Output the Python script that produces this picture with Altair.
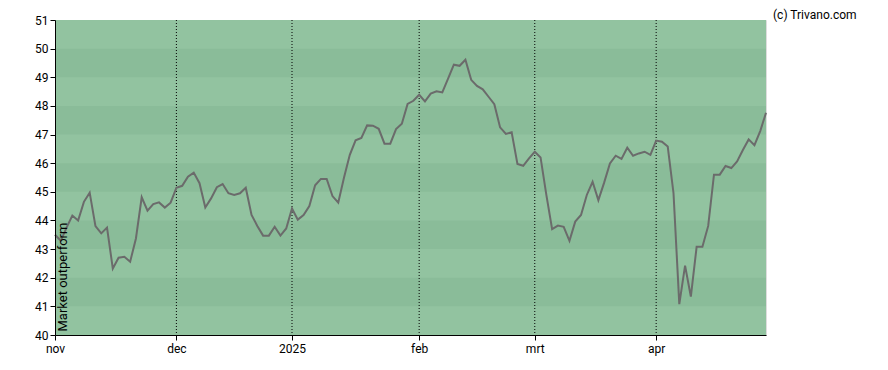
import altair as alt
import pandas as pd

# Trading-day index and values
values = [
    43.5, 43.29, 43.75, 44.17, 44.0, 44.65, 44.97, 43.8, 43.55, 43.75,
    42.32, 42.7, 42.73, 42.56, 43.37, 44.81, 44.34, 44.57, 44.63, 44.45,
    44.62, 45.14, 45.21, 45.53, 45.67, 45.3, 44.45, 44.77, 45.16, 45.27,
    44.95, 44.89, 44.95, 45.14, 44.19, 43.81, 43.47, 43.47, 43.78, 43.47,
    43.72, 44.42, 44.03,
    44.19, 44.5, 45.23, 45.45, 45.45, 44.85, 44.62, 45.5, 46.29, 46.8,
    46.88, 47.32, 47.31, 47.2, 46.68, 46.68, 47.19, 47.38, 48.07, 48.18,
    48.39, 48.16, 48.43, 48.51, 48.47, 48.95, 49.44, 49.4, 49.61, 48.91,
    48.7, 48.58, 48.32, 48.06, 47.25, 47.02, 47.08, 45.97, 45.91, 46.17,
    46.4, 46.2, 44.89, 43.7, 43.82,
    43.78, 43.29, 43.96, 44.19, 44.89, 45.35, 44.71, 45.32, 45.99, 46.26,
    46.15, 46.54, 46.26, 46.34, 46.4, 46.29, 46.79, 46.75, 46.58, 44.95,
    41.08, 42.42, 41.34, 43.08, 43.08, 43.81, 45.6, 45.6, 45.9, 45.83,
    46.06, 46.46, 46.83, 46.63, 47.12, 47.76,
]
day_index = list(range(len(values)))

tick_pos = [0, 21, 41, 63, 83, 104]
tick_labels = ["nov", "dec", "2025", "feb", "mrt", "apr"]
month_lines = [21, 41, 63, 83, 104]

# full light-green background plus darker horizontal bands
y_min, y_max = 40, 51
dark_band_low = [41, 43, 45, 47, 49]
dark_band_high = [b + 1 for b in dark_band_low]
light_green = "#92c3a0"
dark_green = "#8abc99"

y_ticks = list(range(40, 52))
copyright = "(c) Trivano.com"

df = pd.DataFrame({"i": day_index, "v": values})
df_bg = pd.DataFrame({"lo": [y_min], "hi": [y_max]})
df_bands = pd.DataFrame({"lo": dark_band_low, "hi": dark_band_high})
df_rules = pd.DataFrame({"i": month_lines})
df_copy = pd.DataFrame({"t": [copyright]})

label_expr = " : ".join(
    f"datum.value == {p} ? '{l}'" for p, l in zip(tick_pos, tick_labels)
) + " : ''"

x_scale = alt.Scale(domain=[0, len(values) - 1], nice=False, zero=False)
y_scale = alt.Scale(domain=[y_min, y_max], nice=False, zero=False)

x_axis = alt.Axis(
    values=tick_pos, labelExpr=label_expr, title=None, grid=False,
    domainColor="black", tickColor="black", tickSize=5, labelColor="black",
    labelFontSize=12, labelPadding=3, labelFlush=False, zindex=1,
)
y_axis = alt.Axis(
    values=y_ticks, title="Market outperform", grid=False,
    domainColor="black", tickColor="black", tickSize=5, labelColor="black",
    labelFontSize=12, labelPadding=2, zindex=1,
    titleX=11, titleY=311, titleAngle=270, titleAlign="left",
    titleBaseline="alphabetic", titleFontWeight="normal", titleFontSize=13,
    titleColor="black",
)


def band_layer(data, color):
    return alt.Chart(data).mark_rect(color=color).encode(
        x=alt.datum(0, scale=x_scale, axis=x_axis, type="quantitative"),
        x2=alt.datum(len(values) - 1),
        y=alt.Y("lo:Q", scale=y_scale, axis=y_axis),
        y2="hi:Q",
    )


background = band_layer(df_bg, light_green)
bands = band_layer(df_bands, dark_green)

rules = alt.Chart(df_rules).mark_rule(color="black", strokeDash=[1, 2], strokeWidth=1).encode(
    x=alt.X("i:Q", scale=x_scale, axis=x_axis),
)

line = alt.Chart(df).mark_line(color="#6b6b6b", strokeWidth=2).encode(
    x=alt.X("i:Q", scale=x_scale, axis=x_axis),
    y=alt.Y("v:Q", scale=y_scale, axis=y_axis),
)

copy_text = alt.Chart(df_copy).mark_text(
    align="left", baseline="top", fontSize=12, color="black"
).encode(text="t:N", x=alt.value(718), y=alt.value(-10))

chart = alt.layer(background, bands, rules, line, copy_text).properties(
    width=711, height=315,
    autosize=alt.AutoSizeParams(type="none"),
    padding={"left": 47, "top": 12, "right": 110, "bottom": 25},
).configure_view(stroke="black", strokeWidth=1).configure(font="Roboto")

chart.save("out.html", embed_options={"renderer": "svg", "actions": False})
